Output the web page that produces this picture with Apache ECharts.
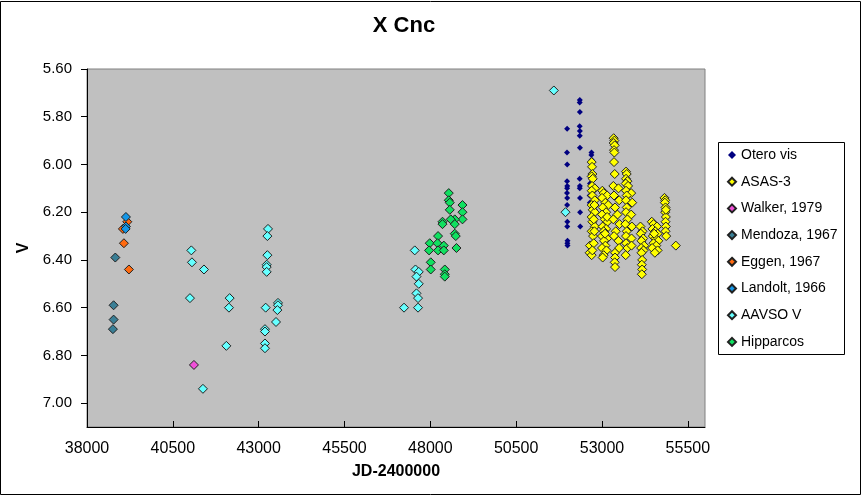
<!DOCTYPE html>
<html>
<head>
<meta charset="utf-8">
<title>X Cnc</title>
<script src="https://cdn.jsdelivr.net/npm/echarts@6/dist/echarts.min.js"></script>
<style>
  html, body { margin: 0; padding: 0; background: #fff; }
  #chart { width: 863px; height: 496px; }
</style>
</head>
<body>
<div id="chart"></div>
<script>
// [JD-2400000, V]
const oteroVis = [
  [51984,5.85],[51980,5.95],[51986,6.00],[51982,6.07],[51988,6.09],[51984,6.10],[51980,6.12],[51986,6.14],
  [51984,6.17],[51990,6.24],[51988,6.26],[51995,6.32],[51992,6.33],[51996,6.34],
  [52354,5.73],[52350,5.74],[52356,5.78],[52350,5.84],[52356,5.86],[52352,5.88],[52358,5.93],[52350,6.06],
  [52356,6.09],[52352,6.10],[52360,6.14],[52362,6.20],[52366,6.26],
  [52695,5.95],[52690,5.96],[52698,5.98],[52692,5.99],[52650,6.08],[52640,6.13],[52645,6.16]
];
const asas3 = [
  // 2003
  [52700,5.99],[52710,6.01],[52720,6.04],[52700,6.05],[52730,6.06],[52710,6.09],[52790,6.10],[52700,6.11],
  [52720,6.13],[52790,6.15],[52700,6.17],[52730,6.19],[52790,6.20],[52700,6.22],[52720,6.24],[52790,6.26],
  [52700,6.28],[52740,6.30],[52650,6.34],[52640,6.37],[52700,6.38],[52760,6.33],[52780,6.28],[52760,6.23],
  [52780,6.17],[52720,6.36],
  // 2004
  [53010,6.11],[53050,6.12],[53150,6.13],[53000,6.14],[53100,6.16],[53180,6.17],[53020,6.18],[53120,6.20],
  [53000,6.21],[53080,6.23],[53160,6.24],[53020,6.26],[53120,6.27],[53050,6.28],[53000,6.30],[53150,6.31],
  [53060,6.32],[53100,6.34],[53000,6.35],[53130,6.36],[53050,6.38],[53020,6.39],[53150,6.22],[53090,6.29],
  // 2005
  [53340,5.89],[53360,5.90],[53340,5.91],[53370,5.92],[53350,5.94],[53360,5.95],[53350,5.99],[53370,6.04],
  [53330,6.09],[53480,6.10],[53350,6.13],[53500,6.15],[53380,6.18],[53450,6.21],[53330,6.23],[53510,6.25],
  [53400,6.28],[53350,6.30],[53480,6.32],[53380,6.37],[53380,6.39],[53370,6.41],[53380,6.43],[53500,6.35],
  // 2006
  [53700,6.03],[53720,6.04],[53700,6.06],[53740,6.07],[53690,6.08],[53760,6.09],[53700,6.11],[53850,6.12],
  [53720,6.13],[53700,6.15],[53880,6.16],[53720,6.18],[53700,6.20],[53850,6.21],[53740,6.23],[53680,6.25],
  [53870,6.26],[53720,6.28],[53700,6.30],[53860,6.31],[53700,6.33],[53740,6.35],[53690,6.38],[53860,6.34],
  // 2007
  [54120,6.26],[54180,6.28],[54130,6.29],[54200,6.31],[54150,6.32],[54230,6.34],[54140,6.35],[54210,6.36],
  [54150,6.37],[54170,6.40],[54160,6.42],[54170,6.44],[54160,6.46],
  // 2008
  [54450,6.24],[54500,6.25],[54600,6.26],[54470,6.27],[54550,6.28],[54620,6.29],[54480,6.30],[54560,6.31],
  [54640,6.32],[54500,6.33],[54580,6.34],[54460,6.35],[54620,6.36],[54540,6.37],[54520,6.29],
  // 2009
  [54820,6.14],[54840,6.15],[54830,6.16],[54850,6.18],[54840,6.20],[54860,6.22],[54850,6.24],[54860,6.26],
  [54850,6.28],[54870,6.30],[54860,6.19],
  [55150,6.34]
];
const walker1979 = [[41115,6.84]];
const mendoza1967 = [[38825,6.39],[38775,6.59],[38775,6.65],[38755,6.69]];
const eggen1967 = [[39174,6.24],[39046,6.27],[39075,6.33],[39221,6.44]];
const landolt1966 = [[39134,6.22],[39134,6.26],[39125,6.27]];
const aavsoV = [
  [41039,6.36],[41057,6.41],[41407,6.44],[40999,6.56],[41377,6.94],
  [42155,6.56],[42135,6.60],[42059,6.76],
  [43272,6.27],[43254,6.30],[43254,6.38],[43234,6.42],[43234,6.43],[43234,6.45],[43204,6.60],
  [43184,6.69],[43184,6.70],[43184,6.75],[43184,6.77],[43563,6.58],[43563,6.59],[43545,6.61],[43505,6.66],
  [47546,6.36],[47567,6.44],[47663,6.45],[47596,6.47],[47663,6.50],[47596,6.54],[47642,6.56],
  [47234,6.60],[47642,6.60],
  [51597,5.69],[51937,6.20]
];
const hipparcos = [
  [48537,6.12],[48537,6.15],[48566,6.16],[48566,6.19],[48936,6.17],[48936,6.20],[48936,6.23],[48712,6.23],
  [48595,6.23],[48354,6.24],[48354,6.25],[48712,6.25],[48712,6.29],[48741,6.30],[48225,6.30],[47983,6.33],
  [48208,6.33],[48392,6.34],[47963,6.36],[48225,6.36],[48392,6.36],[48761,6.35],[48012,6.41],[48012,6.44],
  [48421,6.44],[48421,6.46],[48421,6.47]
];

const font = 'Arial, "Liberation Sans", sans-serif';

function pts(name, data, color, size, border) {
  return {
    name: name,
    type: 'scatter',
    data: data,
    symbol: 'diamond',
    symbolSize: size,
    itemStyle: border
      ? { color: color, borderColor: '#202020', borderWidth: 1, opacity: 1 }
      : { color: color, borderWidth: 0, opacity: 1 },
    emphasis: { disabled: true },
    animation: false
  };
}

const chart = echarts.init(document.getElementById('chart'));
chart.setOption({
  backgroundColor: '#fff',
  animation: false,
  title: {
    text: 'X Cnc',
    left: 399,
    textAlign: 'center',
    top: 10,
    textStyle: { fontFamily: font, fontSize: 22, fontWeight: 'bold', color: '#000' }
  },
  grid: {
    left: 87, right: 158, top: 69, bottom: 69,
    show: true, backgroundColor: '#C0C0C0', borderColor: '#808080', borderWidth: 1
  },
  legend: {
    orient: 'vertical',
    left: 727,
    top: 147,
    padding: 0,
    itemWidth: 8,
    itemHeight: 8,
    itemGap: 10.7,
    icon: 'diamond',
    selectedMode: false,
    textStyle: { fontFamily: font, fontSize: 14, color: '#000', lineHeight: 16 },
    data: ['Otero vis','ASAS-3','Walker, 1979','Mendoza, 1967','Eggen, 1967','Landolt, 1966','AAVSO V','Hipparcos']
  },
  xAxis: {
    type: 'value',
    min: 38000, max: 56000, interval: 2500,
    name: 'JD-2400000',
    nameLocation: 'middle',
    nameGap: 37,
    nameTextStyle: { fontFamily: font, fontSize: 16, fontWeight: 'bold', color: '#000' },
    axisLine: { show: true, onZero: false, lineStyle: { color: '#000', width: 1 } },
    axisTick: { show: true, inside: true, length: 6, lineStyle: { color: '#000' } },
    axisLabel: {
      fontFamily: font, fontSize: 16, color: '#000', margin: 14, showMaxLabel: false,
      formatter: v => String(v)
    },
    splitLine: { show: false }
  },
  yAxis: {
    type: 'value',
    inverse: true,
    min: 5.6, max: 7.1, interval: 0.2,
    name: 'V',
    nameLocation: 'middle',
    nameGap: 54,
    nameRotate: 90,
    nameTextStyle: { fontFamily: font, fontSize: 16, fontWeight: 'bold', color: '#000' },
    axisLine: { show: true, onZero: false, lineStyle: { color: '#000', width: 1 } },
    axisTick: { show: true, length: 6, lineStyle: { color: '#000' } },
    axisLabel: {
      fontFamily: font, fontSize: 15, color: '#000', margin: 15, showMaxLabel: false,
      formatter: v => v.toFixed(2)
    },
    splitLine: { show: false }
  },
  graphic: [
    // outer chart frame
    { type: 'rect', shape: { x: 0.5, y: 1.5, width: 860, height: 493 },
      style: { fill: 'none', stroke: '#000', lineWidth: 1 }, silent: true },
    // legend frame
    { type: 'rect', shape: { x: 718.5, y: 142.5, width: 126, height: 212 },
      style: { fill: 'none', stroke: '#000', lineWidth: 1 }, silent: true, z: 10 }
  ],
  series: [
    pts('Otero vis', oteroVis, '#000080', 6, false),
    pts('ASAS-3', asas3, '#FFFF00', 9, true),
    pts('Walker, 1979', walker1979, '#F050D8', 9, true),
    pts('Mendoza, 1967', mendoza1967, '#3A7F96', 9, true),
    pts('Eggen, 1967', eggen1967, '#FF6A10', 9, true),
    pts('Landolt, 1966', landolt1966, '#1496E6', 9, true),
    pts('AAVSO V', aavsoV, '#66FFFF', 9, true),
    pts('Hipparcos', hipparcos, '#10E060', 9, true)
  ]
});
</script>
</body>
</html>
